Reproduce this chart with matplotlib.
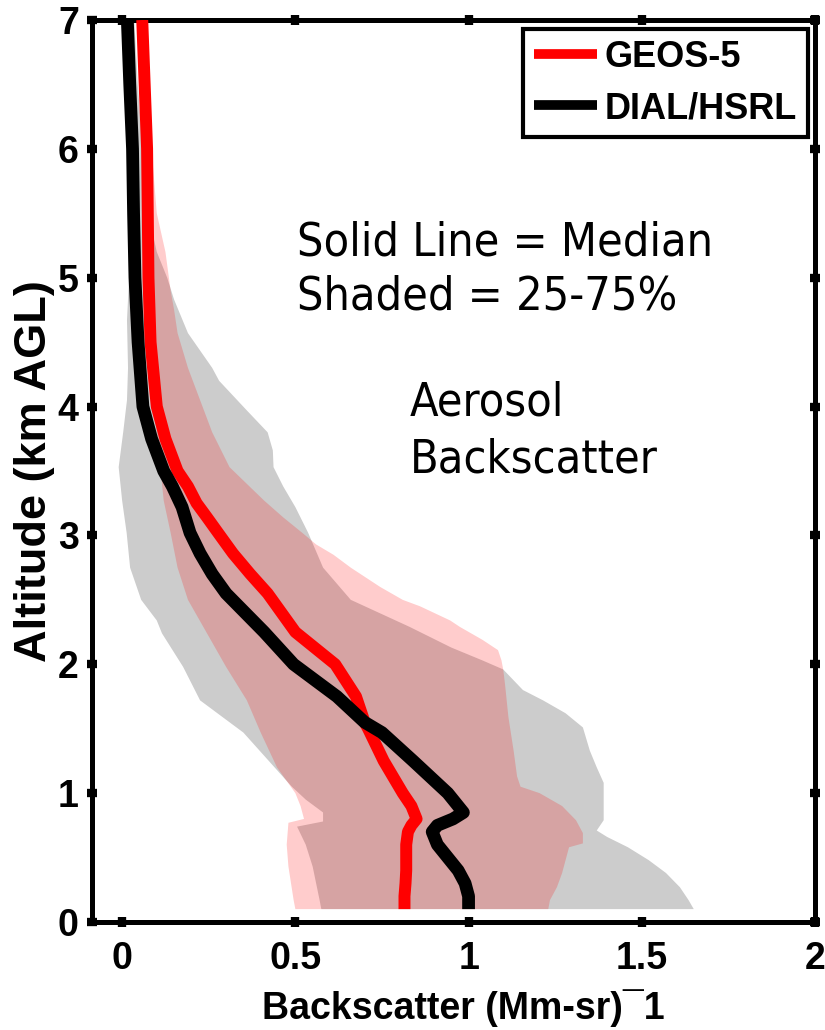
import numpy as np
import matplotlib
matplotlib.use("Agg")
import matplotlib.pyplot as plt

# median profiles (altitude km AGL, backscatter Mm-1 sr-1)
dial_alt = [7.0, 6.5, 6.0, 5.5, 5.0, 4.5, 4.0, 3.75, 3.5, 3.38, 3.22, 3.02, 2.86, 2.7, 2.55, 2.4, 2.25, 2.0,
            1.75, 1.55, 1.47, 1.25, 1.0, 0.9, 0.85, 0.8, 0.75, 0.7, 0.6, 0.5, 0.4, 0.3, 0.2, 0.1]
dial_med = [0.015, 0.022, 0.03, 0.033, 0.037, 0.046, 0.06, 0.085, 0.12, 0.145, 0.173, 0.196, 0.225, 0.26, 0.30,
            0.355, 0.41, 0.495, 0.62, 0.7, 0.75, 0.84, 0.94, 0.97, 0.985, 0.955, 0.91, 0.895, 0.91, 0.94,
            0.97, 0.99, 1.0, 1.0]

geos_alt = [7.0, 6.0, 5.0, 4.5, 4.0, 3.75, 3.5, 3.38, 3.25, 3.14, 3.02, 2.86, 2.7, 2.55, 2.4, 2.25, 2.0, 1.75,
            1.55, 1.5, 1.25, 1.0, 0.9, 0.8, 0.75, 0.7, 0.6, 0.5, 0.4, 0.3, 0.2, 0.1]
geos_med = [0.058, 0.072, 0.076, 0.082, 0.10, 0.125, 0.16, 0.19, 0.215, 0.245, 0.277, 0.32, 0.37, 0.42, 0.46,
            0.50, 0.615, 0.675, 0.70, 0.71, 0.755, 0.81, 0.835, 0.85, 0.835, 0.825, 0.82, 0.82, 0.82, 0.818,
            0.815, 0.815]

# DIAL/HSRL 25th percentile (left edge of grey band)
dial_p25_alt = [7.0, 6.5, 6.0, 5.5, 5.0, 4.67, 4.3, 4.05, 3.8, 3.53, 3.27, 3.02, 2.75, 2.5, 2.34, 2.24,
                1.98, 1.72, 1.47, 1.2, 1.05, 0.95, 0.85, 0.78, 0.74, 0.6, 0.43, 0.3, 0.17, 0.1]
dial_p25 = [0.005, 0.01, 0.015, 0.018, 0.02, 0.014, 0.017, 0.014, 0.003, -0.01, 0.0, 0.013, 0.023, 0.055, 0.10, 0.115,
            0.176, 0.225, 0.35, 0.44, 0.49, 0.53, 0.58, 0.58, 0.505, 0.53, 0.55, 0.56, 0.57, 0.575]
# DIAL/HSRL 75th percentile (right edge of grey band)
dial_p75_alt = [7.0, 6.5, 6.0, 5.5, 5.2, 5.0, 4.83, 4.57, 4.3, 4.2, 3.97, 3.8, 3.66, 3.53, 3.38, 3.22, 3.02,
                2.75, 2.5, 2.29, 2.13, 2.03, 1.96, 1.8, 1.72, 1.62, 1.51, 1.33, 1.2, 1.08, 0.95, 0.79,
                0.71, 0.66, 0.58, 0.48, 0.38, 0.27, 0.17, 0.1]
dial_p75 = [0.035, 0.045, 0.06, 0.075, 0.10, 0.13, 0.15, 0.19, 0.26, 0.28, 0.36, 0.42, 0.435, 0.437, 0.465, 0.50, 0.537,
            0.58, 0.66, 0.83, 0.95, 1.04, 1.10, 1.157, 1.215, 1.28, 1.33, 1.35, 1.37, 1.39, 1.39, 1.39,
            1.37, 1.40, 1.46, 1.52, 1.57, 1.61, 1.635, 1.65]

# GEOS-5 25th / 75th percentiles (pink band)
geos_p25_alt = [7.0, 6.0, 5.0, 4.5, 4.0, 3.8, 3.53, 3.27, 3.02, 2.75, 2.5, 2.24, 1.98, 1.72, 1.47, 1.2,
                1.0, 0.9, 0.8, 0.77, 0.6, 0.43, 0.17, 0.1]
geos_p25 = [0.05, 0.062, 0.07, 0.08, 0.09, 0.10, 0.11, 0.12, 0.14, 0.16, 0.19, 0.245, 0.30, 0.36, 0.40, 0.447,
            0.50, 0.515, 0.525, 0.48, 0.475, 0.48, 0.495, 0.50]
geos_p75_alt = [7.0, 6.5, 6.0, 5.5, 5.2, 4.9, 4.75, 4.57, 4.3, 4.05, 3.8, 3.53, 3.27, 3.14, 3.02, 2.93,
                2.85, 2.75, 2.6, 2.5, 2.45, 2.34, 2.29, 2.19, 2.11, 2.03, 1.96, 1.85, 1.59, 1.33, 1.13,
                1.05, 1.0, 0.9, 0.79, 0.69, 0.61, 0.58, 0.48, 0.38, 0.27, 0.17, 0.1]
geos_p75 = [0.07, 0.075, 0.085, 0.10, 0.125, 0.14, 0.15, 0.16, 0.19, 0.225, 0.26, 0.31, 0.41, 0.465, 0.52, 0.56,
            0.61, 0.66, 0.745, 0.81, 0.86, 0.947, 0.975, 1.04, 1.085, 1.095, 1.10, 1.105, 1.115, 1.13, 1.14,
            1.15, 1.205, 1.27, 1.31, 1.33, 1.33, 1.29, 1.28, 1.27, 1.255, 1.235, 1.23]

xticks = [0, 0.5, 1, 1.5, 2]
xticklabels = ["0", "0.5", "1", "1.5", "2"]
yticks = [0, 1, 2, 3, 4, 5, 6, 7]

bold_font = ["Liberation Sans", "DejaVu Sans"]

fig = plt.figure(figsize=(8.25, 10.3), dpi=100)
ax = fig.add_axes([92 / 825, 108 / 1030, 723 / 825, 902 / 1030])

# grey band for lidar, pink (transparent red) band for model on top
ax.fill(np.concatenate([dial_p25, dial_p75[::-1]]),
        np.concatenate([dial_p25_alt, dial_p75_alt[::-1]]),
        color="#cccccc", lw=0, zorder=1)
ax.fill(np.concatenate([geos_p25, geos_p75[::-1]]),
        np.concatenate([geos_p25_alt, geos_p75_alt[::-1]]),
        color="red", alpha=0.2, lw=0, zorder=2)

ax.plot(geos_med, geos_alt, color="red", lw=8.6, label="GEOS-5", zorder=3,
        solid_joinstyle="round", solid_capstyle="butt")
ax.plot(dial_med, dial_alt, color="black", lw=9.2, label="DIAL/HSRL", zorder=4,
        solid_joinstyle="round", solid_capstyle="butt")

ax.set_xlim(-0.087, 2.0)
ax.set_ylim(0, 7)
ax.set_xticks(xticks)
ax.set_xticklabels(xticklabels)
ax.set_yticks(yticks)

for s in ax.spines.values():
    s.set_linewidth(3.6)
ax.tick_params(direction="inout", length=7, width=6, top=True, right=True,
               labeltop=False, labelright=False)
ax.tick_params(axis="x", pad=10)
ax.tick_params(axis="y", pad=6)
for lab in ax.get_xticklabels() + ax.get_yticklabels():
    lab.set_fontfamily(bold_font)
    lab.set_fontweight("bold")
    lab.set_fontsize(27)

ax.set_xlabel("Backscatter (Mm-sr)\u00af1", fontsize=27, fontweight="bold", family=bold_font,
              va="center")
ax.xaxis.set_label_coords(0.513, -0.095)
ax.set_ylabel("Altitude (km AGL)", fontsize=32.5, fontweight="bold", family=bold_font,
              va="center")
ax.yaxis.set_label_coords(-0.08, 0.5)

leg = ax.legend(loc="upper right", bbox_to_anchor=(0.99, 0.99), frameon=True, fancybox=False,
                prop={"family": bold_font, "weight": "bold", "size": 26},
                handlelength=1.75, handletextpad=0.2, labelspacing=0.45,
                borderpad=0.3, borderaxespad=0.0)
leg.get_frame().set_edgecolor("black")
leg.get_frame().set_linewidth(3.0)
leg.get_frame().set_alpha(1)
for line in leg.get_lines():
    line.set_linewidth(7)

note_font = {"family": ["DejaVu Sans"], "stretch": "condensed", "size": 33.5}
ax.text(0.505, 5.176, "Solid Line = Median", va="baseline", ha="left", **note_font)
ax.text(0.505, 4.75, "Shaded = 25-75%", va="baseline", ha="left", **note_font)
ax.text(0.83, 3.93, "Aerosol", va="baseline", ha="left", **note_font)
ax.text(0.83, 3.49, "Backscatter", va="baseline", ha="left", **note_font)

fig.savefig("out.png", dpi=100)
